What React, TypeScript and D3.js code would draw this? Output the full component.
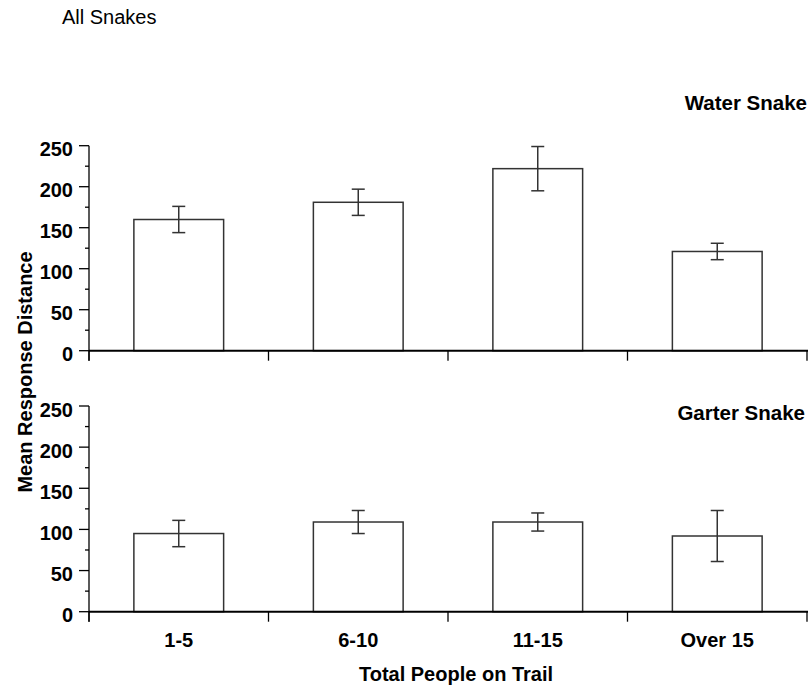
import React from "react";
import * as d3 from "d3";

const categories = ["1-5", "6-10", "11-15", "Over 15"];
const waterMeans = [160, 181, 222, 121];
const waterErrors = [16, 16, 27, 10];
const garterMeans = [95, 109, 109, 92];
const garterErrors = [16, 14, 11, 31];
const majorTicks = [0, 50, 100, 150, 200, 250];
const minorTicks = [25, 75, 125, 175, 225];

const W = 810;
const H = 685;
const xLeft = 89;
const xRight = 807;

const FONT = "Liberation Sans, Arial, Helvetica, sans-serif";

function Panel({ means, errors, y0, y1, title, titleX, titleY, showLabels }: any) {
  const x = d3.scaleBand().domain(categories).range([xLeft, xRight]).paddingInner(0).paddingOuter(0);
  const y = d3.scaleLinear().domain([0, 250]).range([y0, y1]);
  const bw = x.bandwidth() * 0.5;
  const boundaries = [xLeft, ...categories.map((c) => (x(c) as number) + x.bandwidth())];
  const stroke = "#333";
  return (
    <g>
      {categories.map((c, i) => {
        const cx = (x(c) as number) + x.bandwidth() / 2;
        const top = y(means[i]);
        return (
          <g key={c}>
            <rect x={cx - bw / 2} y={top} width={bw} height={y(0) - top} fill="#fff" stroke={stroke} strokeWidth={1.5} />
            <line x1={cx} x2={cx} y1={y(means[i] + errors[i])} y2={y(means[i] - errors[i])} stroke={stroke} strokeWidth={1.5} />
            <line x1={cx - 6.5} x2={cx + 6.5} y1={y(means[i] + errors[i])} y2={y(means[i] + errors[i])} stroke={stroke} strokeWidth={1.5} />
            <line x1={cx - 6.5} x2={cx + 6.5} y1={y(means[i] - errors[i])} y2={y(means[i] - errors[i])} stroke={stroke} strokeWidth={1.5} />
          </g>
        );
      })}
      <line x1={xLeft} x2={xLeft} y1={y(250)} y2={y(0) + 10} stroke="#000" strokeWidth={1.3} />
      {majorTicks.map((t) => (
        <g key={"M" + t}>
          <line x1={xLeft - 10} x2={xLeft} y1={y(t)} y2={y(t)} stroke="#000" strokeWidth={1.3} />
          <text x={73} y={y(t) + 10.5} textAnchor="end" fontFamily={FONT} fontWeight="bold" fontSize={20} fill="#000">
            {t}
          </text>
        </g>
      ))}
      {minorTicks.map((t) => (
        <line key={"m" + t} x1={xLeft - 4} x2={xLeft} y1={y(t)} y2={y(t)} stroke="#000" strokeWidth={1.3} />
      ))}
      <line x1={xLeft} x2={xRight + 1} y1={y(0)} y2={y(0)} stroke="#000" strokeWidth={2} />
      {boundaries.map((b, i) => (
        <line key={"b" + i} x1={b} x2={b} y1={y(0)} y2={y(0) + 10} stroke="#000" strokeWidth={1.3} />
      ))}
      {showLabels &&
        categories.map((c) => (
          <text key={"l" + c} x={(x(c) as number) + x.bandwidth() / 2} y={647} textAnchor="middle" fontFamily={FONT} fontWeight="bold" fontSize={20} fill="#000">
            {c}
          </text>
        ))}
      <text x={titleX} y={titleY} textAnchor="end" fontFamily={FONT} fontWeight="bold" fontSize={20.5} fill="#000">
        {title}
      </text>
    </g>
  );
}

export default function App() {
  return (
    <svg width={W} height={H} style={{ position: "absolute", left: 0, top: 0, background: "#fff" }}>
      <rect x={0} y={0} width={W} height={H} fill="#fff" />
      <text x={62} y={24} fontFamily={FONT} fontSize={20} fill="#000">
        All Snakes
      </text>
      <Panel means={waterMeans} errors={waterErrors} y0={350.7} y1={145.7} title="Water Snake" titleX={807} titleY={110} showLabels={false} />
      <Panel means={garterMeans} errors={garterErrors} y0={611.7} y1={406} title="Garter Snake" titleX={805} titleY={420} showLabels={true} />
      <text
        transform={`translate(32, 372) rotate(-90)`}
        textAnchor="middle"
        fontFamily={FONT}
        fontWeight="bold"
        fontSize={20}
        fill="#000"
      >
        Mean Response Distance
      </text>
      <text x={456} y={681} textAnchor="middle" fontFamily={FONT} fontWeight="bold" fontSize={20} fill="#000">
        Total People on Trail
      </text>
    </svg>
  );
}
